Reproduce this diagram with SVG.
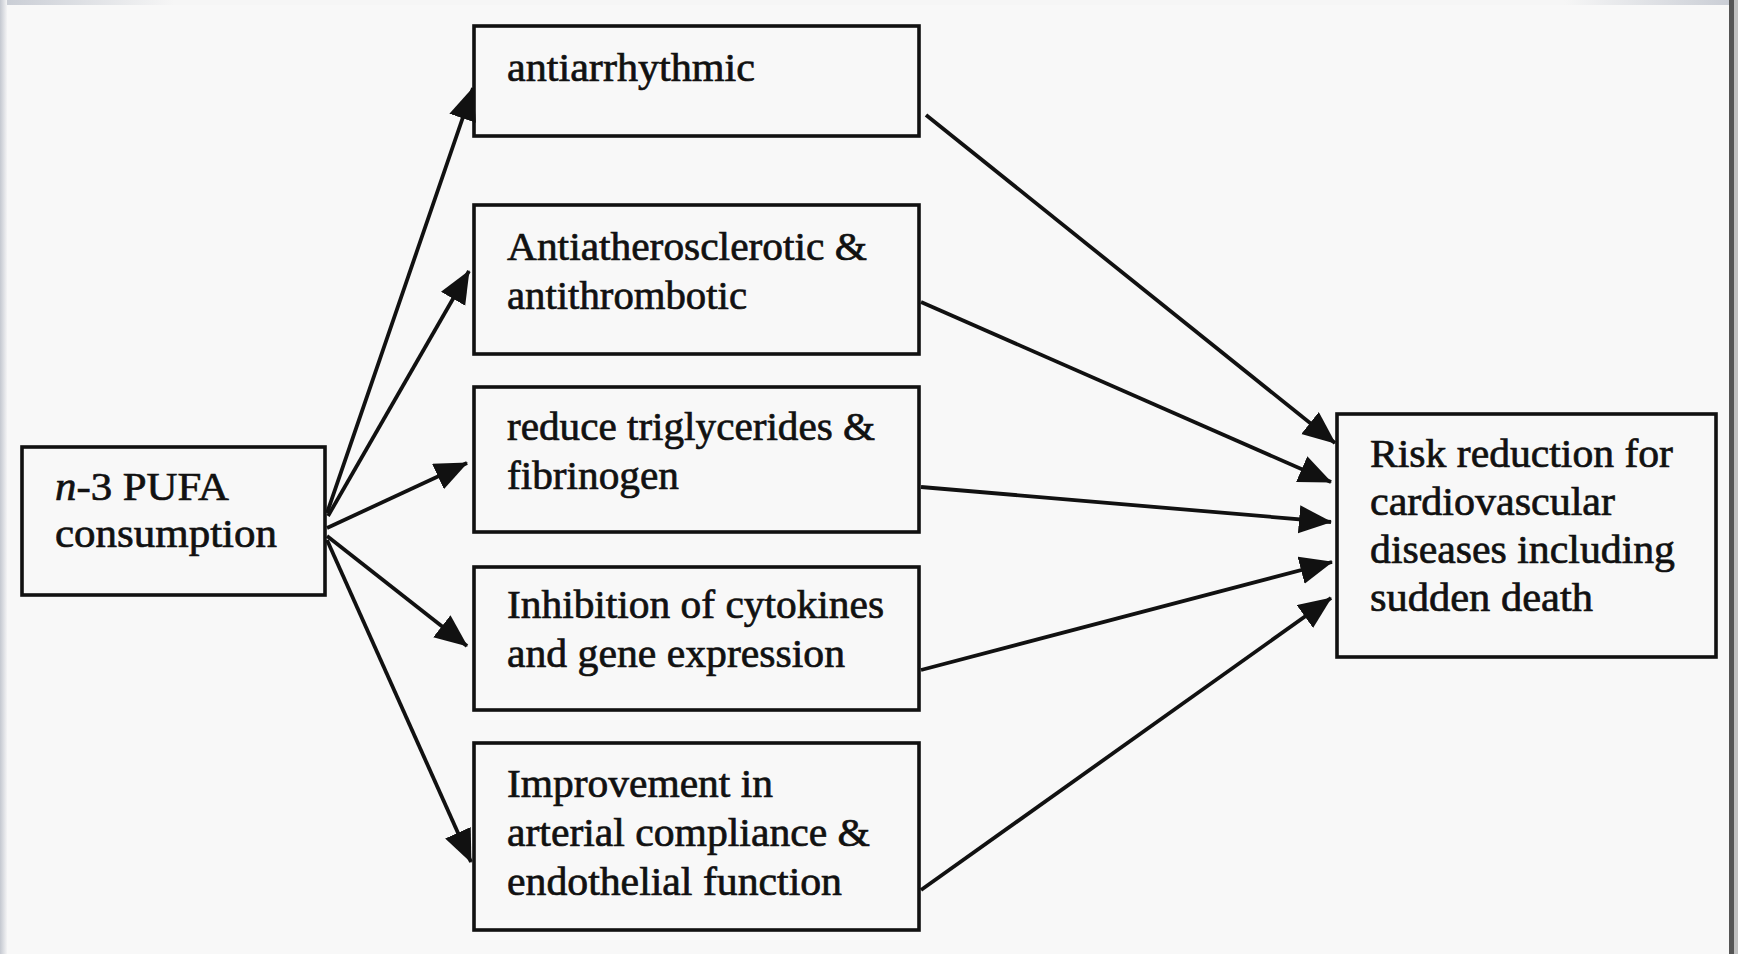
<svg xmlns="http://www.w3.org/2000/svg" width="1738" height="954" viewBox="0 0 1738 954">
<defs>
<style>
.box{fill:none;stroke:#111;stroke-width:3.6}
.t{font-family:"Liberation Serif","Times New Roman",serif;font-size:41px;fill:#111;stroke:#111;stroke-width:0.7}
.c{stroke:#111;stroke-width:3.8;fill:none;marker-end:url(#ah)}
</style>
<marker id="ah" markerUnits="userSpaceOnUse" markerWidth="36" markerHeight="30" refX="32" refY="14" orient="auto">
<path d="M0,0 L33,14 L0,28 z" fill="#111"/>
</marker>
<linearGradient id="lg" x1="0" y1="0" x2="1" y2="0">
<stop offset="0" stop-color="#c4c8d0"/>
<stop offset="1" stop-color="#f4f4f5"/>
</linearGradient>
<linearGradient id="tg" x1="0" y1="0" x2="1" y2="0">
<stop offset="0" stop-color="#c8ccd4"/>
<stop offset="0.1" stop-color="#f6f6f6"/>
<stop offset="0.9" stop-color="#f6f6f6"/>
<stop offset="1" stop-color="#c8ccd4"/>
</linearGradient>
</defs>
<rect x="0" y="0" width="1738" height="954" fill="#f8f8f8"/>
<rect x="0" y="0" width="1738" height="5" fill="url(#tg)"/>
<rect x="0" y="0" width="7" height="954" fill="url(#lg)"/>
<rect x="1729" y="0" width="5" height="954" fill="#555"/>
<rect x="1734" y="0" width="4" height="954" fill="#c0c0c0"/>

<g id="connectors">
<line class="c" x1="327" y1="513" x2="473" y2="88"/>
<line class="c" x1="328" y1="516" x2="469" y2="271"/>
<line class="c" x1="327" y1="528" x2="467" y2="463"/>
<line class="c" x1="327" y1="536" x2="467" y2="646"/>
<line class="c" x1="327" y1="540" x2="471" y2="862"/>
<line class="c" x1="926" y1="115" x2="1335" y2="443"/>
<line class="c" x1="921" y1="302" x2="1331" y2="482"/>
<line class="c" x1="921" y1="487" x2="1331" y2="522"/>
<line class="c" x1="921" y1="670" x2="1332" y2="562"/>
<line class="c" x1="921" y1="890" x2="1331" y2="598"/>
</g>

<g id="n3pufa">
<rect class="box" x="22" y="447" width="303" height="148"/>
<text class="t" x="55" y="500" textLength="174" lengthAdjust="spacingAndGlyphs"><tspan font-style="italic">n</tspan>-3 PUFA</text>
<text class="t" x="55" y="547" textLength="222" lengthAdjust="spacingAndGlyphs">consumption</text>
</g>

<g id="antiarrhythmic">
<rect class="box" x="474" y="26" width="445" height="110"/>
<text class="t" x="507" y="81" textLength="248" lengthAdjust="spacingAndGlyphs">antiarrhythmic</text>
</g>

<g id="antiatherosclerotic">
<rect class="box" x="474" y="205" width="445" height="149"/>
<text class="t" x="507" y="260" textLength="360" lengthAdjust="spacingAndGlyphs">Antiatherosclerotic &amp;</text>
<text class="t" x="507" y="309" textLength="240" lengthAdjust="spacingAndGlyphs">antithrombotic</text>
</g>

<g id="triglycerides">
<rect class="box" x="474" y="387" width="445" height="145"/>
<text class="t" x="507" y="440" textLength="368" lengthAdjust="spacingAndGlyphs">reduce triglycerides &amp;</text>
<text class="t" x="507" y="489" textLength="172" lengthAdjust="spacingAndGlyphs">fibrinogen</text>
</g>

<g id="cytokines">
<rect class="box" x="474" y="567" width="445" height="143"/>
<text class="t" x="507" y="618" textLength="377" lengthAdjust="spacingAndGlyphs">Inhibition of cytokines</text>
<text class="t" x="507" y="667" textLength="338" lengthAdjust="spacingAndGlyphs">and gene expression</text>
</g>

<g id="arterial">
<rect class="box" x="474" y="743" width="445" height="187"/>
<text class="t" x="507" y="797" textLength="266" lengthAdjust="spacingAndGlyphs">Improvement in</text>
<text class="t" x="507" y="846" textLength="363" lengthAdjust="spacingAndGlyphs">arterial compliance &amp;</text>
<text class="t" x="507" y="895" textLength="335" lengthAdjust="spacingAndGlyphs">endothelial function</text>
</g>

<g id="risk">
<rect class="box" x="1337" y="414" width="379" height="243"/>
<text class="t" x="1370" y="467" textLength="303" lengthAdjust="spacingAndGlyphs">Risk reduction for</text>
<text class="t" x="1370" y="515" textLength="245" lengthAdjust="spacingAndGlyphs">cardiovascular</text>
<text class="t" x="1370" y="563" textLength="305" lengthAdjust="spacingAndGlyphs">diseases including</text>
<text class="t" x="1370" y="611" textLength="223" lengthAdjust="spacingAndGlyphs">sudden death</text>
</g>
</svg>
